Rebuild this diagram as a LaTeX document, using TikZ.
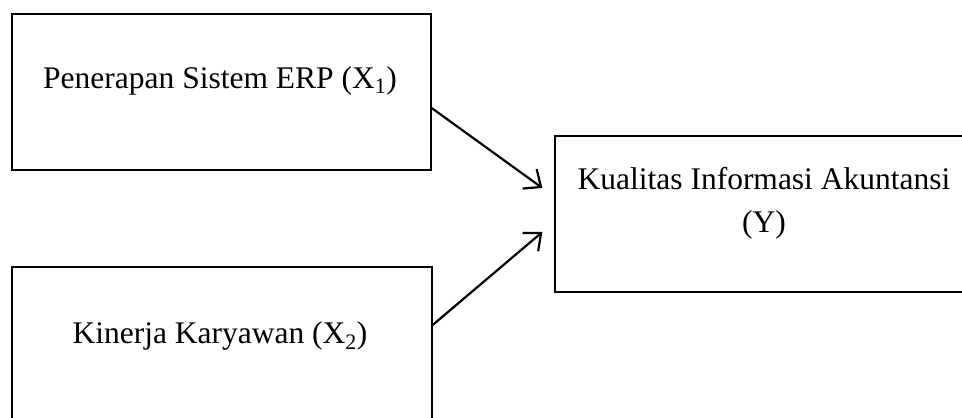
\documentclass[tikz,border=0pt]{standalone}
\usepackage{fontspec}
\setmainfont{Liberation Serif}
\usetikzlibrary{arrows.meta}
\begin{document}
\begin{tikzpicture}[x=1pt,y=-1pt,
  box/.style={draw=black,line width=1.3pt,minimum width=#1,minimum height=156pt,inner sep=0pt},
  lbl/.style={anchor=base,inner sep=0pt,font=\fontsize{31.5}{38}\selectfont},
  link/.style={line width=2.2pt,-{Straight Barb[length=14pt,width=24pt,line width=2.2pt]}}]
\useasboundingbox (0,0) rectangle (962,418);
\node[box=419pt] (b1) at (221.5,92) {};
\node[box=420pt] (b2) at (222,345) {};
\node[box=418pt] (b3) at (764,214) {};
\node[lbl] (t1) at (220,88) {Penerapan Sistem ERP (X\textsubscript{1})};
\node[lbl] (t2) at (220,343) {Kinerja Karyawan (X\textsubscript{2})};
\node[lbl] (t3) at (764,189) {Kualitas Informasi Akuntansi};
\node[lbl] (t4) at (764,232) {(Y)};
\draw[link] ([yshift=-16pt]b1.east) -- ([xshift=-12pt,yshift=26pt]b3.west);
\draw[link] ([yshift=20pt]b2.east) -- ([xshift=-12pt,yshift=-18pt]b3.west);
\end{tikzpicture}
\end{document}
